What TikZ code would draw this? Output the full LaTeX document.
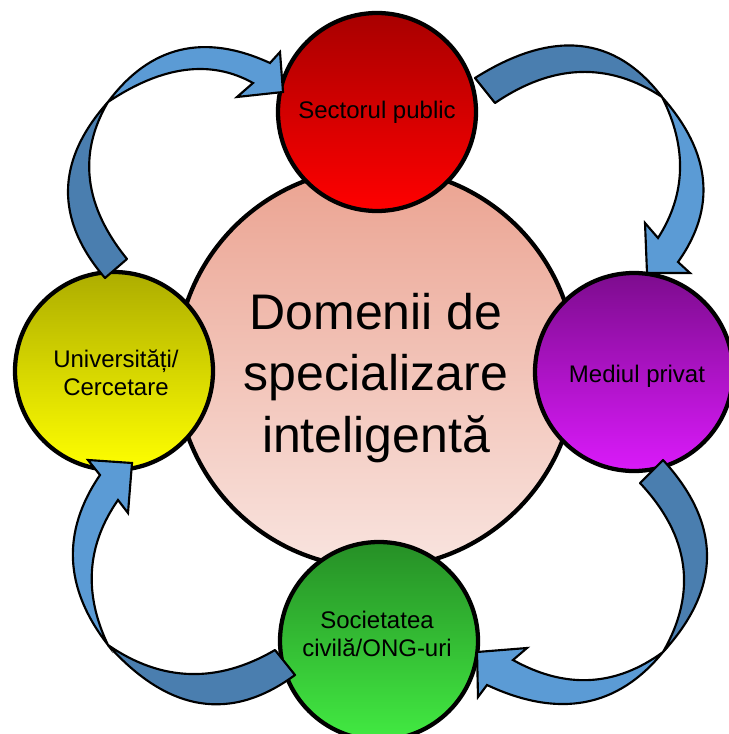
\documentclass[tikz,border=0pt]{standalone}
\usepackage{fontspec}
\setmainfont{Liberation Sans}
\definecolor{arrL}{HTML}{5B9BD5}
\definecolor{arrD}{HTML}{4A7EAF}
\begin{document}
\begin{tikzpicture}[x=0.75pt,y=-0.75pt,
  ring/.style={circle, draw=black, line width=3.2pt, inner sep=0pt},
  satnode/.style={ring, minimum size=148.5pt},
  lbl/.style={font=\fontsize{18}{21}\selectfont, align=center, inner sep=0pt},
  arrback/.style={fill=arrD, draw=black, line width=1.6pt, line join=round},
  arrfront/.style={fill=arrL, draw=black, line width=1.6pt, line join=miter},
]
\useasboundingbox (0,0) rectangle (728,734);

% central circle
\node[ring, minimum size=300pt, top color={rgb,255:red,235;green,163;blue,145}, bottom color={rgb,255:red,249;green,228;blue,223}] (dom) at (376,368) {};
\node[font=\fontsize{37.5}{46}\selectfont, align=center, inner sep=0pt] (domt) at (376,378) {Domenii de\\specializare\\inteligentă};

% satellite circles
\node[satnode, top color={rgb,255:red,168;green,0;blue,0}, bottom color={rgb,255:red,255;green,0;blue,0}] (pub) at (377,112) {};
\node[satnode, top color={rgb,255:red,125;green,12;blue,142}, bottom color={rgb,255:red,218;green,26;blue,250}] (priv) at (634,372) {};
\node[satnode, top color={rgb,255:red,38;green,143;blue,38}, bottom color={rgb,255:red,66;green,234;blue,66}] (ong) at (379,641) {};
\node[satnode, top color={rgb,255:red,173;green,173;blue,0}, bottom color={rgb,255:red,255;green,255;blue,0}] (univ) at (114,371) {};

\node[lbl] (pubt) at (377,112) {Sectorul public};
\node[lbl] (privt) at (637,376) {Mediul privat};
\node[lbl] (ongt) at (377,634) {Societatea\\civilă/ONG-uri};
\node[lbl] (univt) at (116,372.5) {Universități/\\Cercetare};

% arrow 1: univ -> pub
\path[arrback] (105,278) .. controls (54.67,219.33) and (55.67,160.67) .. (108,102)
  .. controls (77.67,153.67) and (84,206) .. (127,259) -- cycle;
\path[arrfront] (108,102) .. controls (150,45.67) and (204,32.67) .. (270,63)
  -- (280,52) -- (283,92) -- (237,97) -- (253,83)
  .. controls (210.67,59.33) and (162.33,65.67) .. (108,102) -- cycle;

% arrow 2: pub -> priv
\path[arrback] (475,78) .. controls (552.67,29) and (615,35.33) .. (662,97)
  .. controls (608.33,61.67) and (552.67,63.67) .. (495,103) -- cycle;
\path[arrfront] (662,97) .. controls (711.33,152.67) and (716.67,207.67) .. (678,262)
  -- (690,273) -- (647,273) -- (645,223) -- (658,238)
  .. controls (686,194.33) and (687.33,147.33) .. (662,97) -- cycle;

% arrow 3: priv -> ong
\path[arrback] (663,460) .. controls (721.67,524) and (721.67,588) .. (663,652)
  .. controls (697.33,592.33) and (689.67,536) .. (640,483) -- cycle;
\path[arrfront] (663,652) .. controls (617.67,707.67) and (559,718.67) .. (487,685)
  -- (478,697) -- (477,652) -- (527,648) -- (513,660)
  .. controls (565.67,689.33) and (615.67,686.67) .. (663,652) -- cycle;

% arrow 4: ong -> univ
\path[arrback] (295,675) .. controls (230.67,722.33) and (168.33,712.33) .. (108,645)
  .. controls (161.67,682) and (217.33,683.67) .. (275,650) -- cycle;
\path[arrfront] (108,645) .. controls (64,588.33) and (61.33,531.67) .. (100,475)
  -- (88,460) -- (132,463) -- (128,513) -- (118,500)
  .. controls (86.67,545) and (83.33,593.33) .. (108,645) -- cycle;
\end{tikzpicture}
\end{document}
